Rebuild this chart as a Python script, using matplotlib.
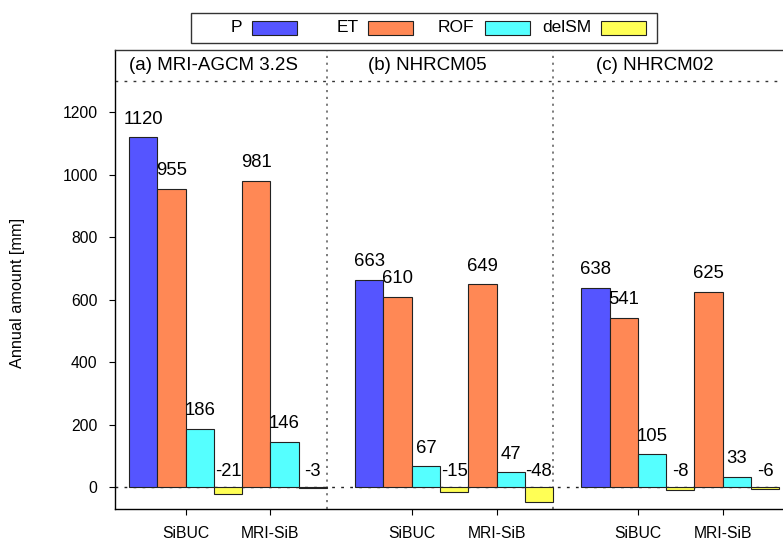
import numpy as np
import matplotlib
matplotlib.use('Agg')
import matplotlib.pyplot as plt
from matplotlib.patches import Rectangle

plt.rcParams['font.family'] = ['Liberation Sans', 'DejaVu Sans']

# annual water budget, SiBUC / MRI-SiB for each forcing model
models = ['(a) MRI-AGCM 3.2S', '(b) NHRCM05', '(c) NHRCM02']
schemes = ['SiBUC', 'MRI-SiB']
series = ['P', 'ET', 'ROF', 'delSM']
P = [1120, np.nan, 663, np.nan, 638, np.nan]
ET = [955, 981, 610, 649, 541, 625]
ROF = [186, 146, 67, 47, 105, 33]
delSM = [-21, -3, -15, -48, -8, -6]
colors = ['#5555ff', '#ff8855', '#55ffff', '#ffff55']

values = [P, ET, ROF, delSM]

W, H = 783, 541
fig = plt.figure(figsize=(W / 100, H / 100), dpi=100)
# x unit = one bar width; panel c runs off the right edge
ax = fig.add_axes([115 / W, (H - 509) / H, 24 * 28.26 / W, (509 - 50) / H])
ax.set_xlim(-2.5, 21.5)
ax.set_ylim(-70, 1400)

xpos = []
for i in range(len(models)):
    for j in range(len(schemes)):
        xpos.append(i * 8 + j * 3)
xpos = np.array(xpos)

offsets = [-1.5, -0.5, 0.5, 1.5]
for vals, col, off in zip(values, colors, offsets):
    for x, v in zip(xpos, vals):
        if np.isnan(v):
            continue
        ax.bar(x + off, v, width=1.0, color=col, edgecolor='#222222',
               linewidth=0.8, zorder=3)
        if v >= 0:
            dy = 7
            y = v
        else:
            dy = 5
            y = 0
        ax.annotate(str(int(v)), (x + off, y), xytext=(0, dy),
                    textcoords='offset points', ha='center', va='bottom',
                    fontsize=13.3, zorder=4)

# dotted guides
ax.axhline(0, color='#222222', lw=1, ls=(0, (2, 4.5)), zorder=2)
ax.axhline(1300, color='#333333', lw=1, ls=(0, (2, 4.5)), zorder=2)
for xs in [5, 13]:
    ax.axvline(xs, color='#666666', lw=1.2, ls=(0, (1.3, 2.8)), zorder=2)

title_x = [0.97, 8.55, 16.6]
for tx, name in zip(title_x, models):
    ax.text(tx, 1350, name, ha='center', va='center', fontsize=13.5)

ax.set_yticks(np.arange(0, 1201, 200))
ax.set_xticks(xpos)
ax.set_xticklabels(schemes * len(models))
ax.tick_params(axis='both', direction='out', length=4.5, width=0.8,
               labelsize=11.3, pad=8)
for s in ['left', 'bottom', 'top']:
    ax.spines[s].set_linewidth(1.0)
ax.spines['top'].set_color('#333333')
ax.spines['right'].set_visible(False)

fig.text(18 / W, 1 - 293 / H, 'Annual amount [mm]', rotation=90,
         ha='center', va='center', fontsize=11.7)

# key box above the panels
def fx(px):
    return px / W


def fy(py):
    return 1 - py / H


fig.patches.append(Rectangle((fx(191), fy(43)), fx(657) - fx(191), fy(13) - fy(43),
                             transform=fig.transFigure, fill=False,
                             edgecolor='#333333', lw=1.0))
for k, (name, col) in enumerate(zip(series, colors)):
    x0 = 252 + k * 116.3
    fig.patches.append(Rectangle((fx(x0), fy(35)), 45 / W, 14 / H,
                                 transform=fig.transFigure, facecolor=col,
                                 edgecolor='#222222', lw=0.8))
    fig.text(fx(x0 - 10), fy(28), name, ha='right', va='center', fontsize=12.5)

plt.savefig('out.png', dpi=100)
